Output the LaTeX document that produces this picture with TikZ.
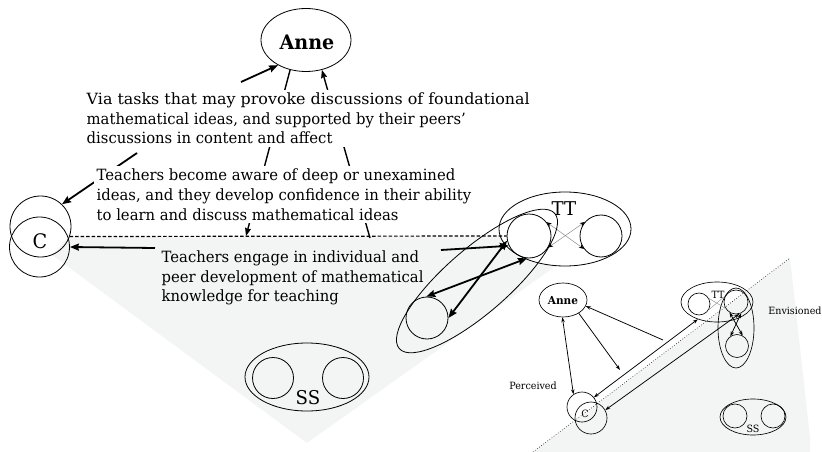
\documentclass[tikz,border=0pt]{standalone}
\usepackage{fontspec}
\setmainfont{DejaVu Serif}[FakeStretch=0.955]
\usetikzlibrary{shapes.geometric,arrows.meta}
\definecolor{lightbg}{RGB}{243,244,244}
\definecolor{xline}{RGB}{140,140,140}
\begin{document}
\begin{tikzpicture}[x=1pt,y=1pt,
  ell/.style={draw, ellipse, inner sep=0pt, line width=0.8pt},
  circ/.style={draw, circle, inner sep=0pt, line width=0.8pt},
  thin ell/.style={draw, ellipse, inner sep=0pt, line width=0.65pt},
  thin circ/.style={draw, circle, inner sep=0pt, line width=0.65pt},
  big/.style={line width=1.8pt, -{Stealth[length=9pt,width=7pt,inset=1pt]}},
  bigd/.style={line width=1.8pt, {Stealth[length=9pt,width=7pt,inset=1pt]}-{Stealth[length=9pt,width=7pt,inset=1pt]}},
  mid/.style={line width=1.4pt},
  gx/.style={xline, line width=0.5pt, {Stealth[length=5pt,width=4pt,black]}-{Stealth[length=5pt,width=4pt,black]}},
  sm/.style={line width=0.75pt, -{Stealth[length=5pt,width=3.5pt]}},
  smd/.style={line width=0.75pt, {Stealth[length=5pt,width=3.5pt]}-{Stealth[length=5pt,width=3.5pt]}},
  sgx/.style={xline, line width=0.4pt},
  txt/.style={font=\fontsize{15.5}{19.6}\selectfont, align=left, inner sep=3pt, anchor=north west},
  lbl/.style={inner sep=0pt}
]
\useasboundingbox (0,0) rectangle (822,-452);
% shaded regions
\fill[lightbg] (69,-236.5) -- (505,-236.5) -- (560,-263) -- (307,-443) -- (52,-255) -- cycle;
\fill[lightbg] (533,-452) -- (790,-258) -- (810,-437) -- (810,-452) -- cycle;

% main Anne
\node[ell, minimum width=90, minimum height=63] (anne) at (306,-40) {};
\node[lbl, font=\fontsize{20}{20}\selectfont\bfseries] (annel) at (307,-42) {Anne};

% C circles
\node[circ, minimum size=61] (cup) at (40.5,-226.5) {};
\node[circ, minimum size=60] (clow) at (39.5,-247) {};
\node[lbl, font=\fontsize{20}{20}\selectfont] (cl) at (40,-241) {C};

% lines partly hidden behind the text boxes
\coordinate (v3) at (241,-82);
\coordinate (v4) at (137,-153);
\coordinate (d1) at (246,-236);
\coordinate (d2) at (370,-238);
\draw[big] (v3) -- (anne.222);
\draw[mid, -{Stealth[length=8pt,width=6pt,inset=1pt]}] (anne.242) -- (d1);
\draw[mid, -{Stealth[length=8pt,width=6pt,inset=1pt]}] (d2) -- (anne.298);
\draw[big] (v4) -- (cup.46);

% text boxes
\node[txt, fill=white] (tx1) at (83.5,-89.5) {\scalebox{1.075}[1]{Via tasks that may provoke discussions of foundational}\\mathematical ideas, and supported by their peers’\\discussions in content and affect};
\node[txt, fill=white] (tx2) at (93.5,-166) {Teachers become aware of deep or unexamined\\ideas, and they develop confidence in their ability\\to learn and discuss mathematical ideas};
\node[txt] (tx3) at (158.5,-247.5) {Teachers engage in individual and\\peer development of mathematical\\knowledge for teaching};

% main TT group
\node[ell, fill=white, minimum width=132, minimum height=74] (TT) at (565,-229) {};
\node[lbl, font=\fontsize{19}{19}\selectfont] (ttl) at (564,-209) {TT};
\node[circ, minimum size=44] (t1) at (529,-236) {};
\node[circ, minimum size=42] (t2) at (601,-236) {};
\draw[gx] (t1.38) -- (t2.217);
\draw[gx] (t1.-31) -- (t2.139);
\node[ell, minimum width=206, minimum height=64, rotate=41] (grp) at (477,-281) {};
\node[circ, minimum size=42] (low) at (427,-318) {};

% dashed line C -- TT
\coordinate (dsh) at (69.5,-236.5);
\draw[line width=1.2pt, dash pattern=on 3.5pt off 2pt] (dsh) -- (t1.180);

% horizontal arrows from text 3
\coordinate (h1) at (155,-248);
\coordinate (h2) at (441,-250);
\draw[big] (h1) -- (clow.east);
\draw[big] (h2) -- (t1.206);
% arrows between lower circle and TT circle
\draw[bigd] (low.92) -- (t1.265);
\draw[bigd] (low.0) -- (t1.192);

% main SS
\node[ell, minimum width=124, minimum height=68] (SS) at (307,-377) {};
\node[circ, minimum size=41] (s1) at (273,-378) {};
\node[circ, minimum size=41] (s2) at (343,-378) {};
\node[lbl, font=\fontsize{19}{19}\selectfont] (ssl) at (308,-398) {SS};

% ---------------- inset ----------------
\draw[line width=0.6pt, dotted] (533,-452) -- (790,-258);
\node[thin ell, minimum width=48, minimum height=34] (ianne) at (563,-300) {};
\node[lbl, font=\fontsize{11}{11}\selectfont\bfseries] (iannel) at (563,-301) {Anne};
\node[thin ell, minimum width=72, minimum height=40] (iTT) at (717,-302) {};
\node[lbl, font=\fontsize{10}{10}\selectfont] (ittl) at (718,-295) {TT};
\node[thin circ, minimum size=22] (it1) at (699,-304) {};
\node[thin circ, minimum size=24] (it2) at (736,-302) {};
\node[thin ell, minimum width=36, minimum height=80] (ivert) at (736,-328) {};
\node[thin circ, minimum size=23] (it3) at (737,-346) {};
\draw[sgx] (it1.30) -- (it2.210);
\draw[sgx] (it1.-30) -- (it2.150);
\draw[smd] (it2.238) -- (it3.61);
\draw[smd] (it2.295) -- (it3.124);

\node[thin circ, minimum size=30] (ic1) at (582,-407) {};
\node[thin circ, minimum size=32] (ic2) at (591,-418) {};
\node[lbl, font=\fontsize{10}{10}\selectfont] (icl) at (585,-414) {C};

\node[thin ell, minimum width=66, minimum height=36] (iSS) at (753,-417) {};
\node[thin circ, minimum size=24] (is1) at (735,-416) {};
\node[thin circ, minimum size=24] (is2) at (773,-416) {};
\node[lbl, font=\fontsize{10}{10}\selectfont] (issl) at (753,-429) {SS};

\node[lbl, font=\fontsize{10}{10}\selectfont] (perc) at (533,-386) {Perceived};
\node[lbl, font=\fontsize{10}{10}\selectfont] (envi) at (795,-311) {Envisioned};

\coordinate (ia1) at (620,-370);
\coordinate (ia2) at (663,-340);
\draw[smd] (ianne.268) -- (ic1.124);
\draw[sm] (ianne.-40) -- (ia1);
\draw[sm] (ia2) -- (ianne.-15);
\draw[smd] (ic1.39) -- (iTT.222);
\draw[smd] (ic2.29) -- (it2.-75);
\end{tikzpicture}
\end{document}
